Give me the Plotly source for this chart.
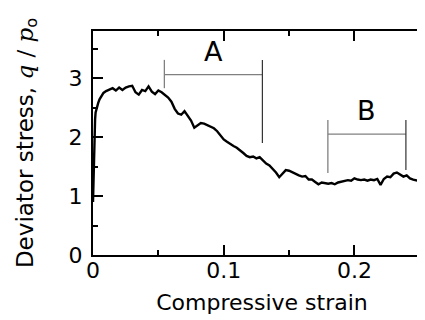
import plotly.graph_objects as go

strain = [0, 0.0004, 0.0008, 0.0012, 0.0016, 0.002, 0.003, 0.004, 0.005, 0.0065, 0.008, 0.01,
          0.0125, 0.015, 0.0175, 0.02, 0.0225, 0.025, 0.0275, 0.03, 0.0325, 0.035, 0.0375, 0.04,
          0.0425, 0.045, 0.0475, 0.05, 0.0525, 0.055, 0.0575, 0.06, 0.0625, 0.065, 0.0675, 0.07,
          0.0725, 0.075, 0.0775, 0.08, 0.0825, 0.085, 0.0875, 0.09, 0.0925, 0.095, 0.0975, 0.1,
          0.1025, 0.105, 0.1075, 0.11, 0.1125, 0.115, 0.1175, 0.12, 0.1225, 0.125, 0.1275, 0.13,
          0.1325, 0.135, 0.1375, 0.14, 0.1425, 0.145, 0.1475, 0.15, 0.1525, 0.155, 0.1575, 0.16,
          0.1625, 0.165, 0.1675, 0.17, 0.1725, 0.175, 0.1775, 0.18, 0.1825, 0.185, 0.1875, 0.19,
          0.1925, 0.195, 0.1975, 0.2, 0.2025, 0.205, 0.2075, 0.21, 0.2125, 0.215, 0.2175, 0.22,
          0.2225, 0.225, 0.2275, 0.23, 0.2325, 0.235, 0.2375, 0.24, 0.2425, 0.245, 0.2475, 0.25]
stress = [0.9, 1.4, 1.8, 2.1, 2.3, 2.42, 2.52, 2.58, 2.64, 2.7, 2.75, 2.78,
          2.80, 2.83, 2.79, 2.84, 2.80, 2.84, 2.86, 2.87, 2.76, 2.72, 2.80, 2.78,
          2.86, 2.77, 2.73, 2.79, 2.76, 2.72, 2.67, 2.60, 2.48, 2.40, 2.38, 2.44,
          2.36, 2.28, 2.16, 2.20, 2.24, 2.23, 2.20, 2.17, 2.15, 2.10, 2.02, 1.96,
          1.92, 1.88, 1.85, 1.82, 1.78, 1.73, 1.68, 1.66, 1.67, 1.64, 1.66, 1.60,
          1.55, 1.52, 1.46, 1.40, 1.32, 1.38, 1.44, 1.43, 1.40, 1.38, 1.35, 1.33,
          1.34, 1.28, 1.28, 1.24, 1.20, 1.23, 1.22, 1.21, 1.22, 1.20, 1.23, 1.24,
          1.25, 1.27, 1.26, 1.30, 1.28, 1.27, 1.28, 1.26, 1.28, 1.27, 1.29, 1.19,
          1.29, 1.33, 1.32, 1.38, 1.40, 1.36, 1.33, 1.35, 1.30, 1.28, 1.27, 1.25]

x_ticks = [0, 0.1, 0.2]
x_ticklabels = ["0", "0.1", "0.2"]
y_ticks = [0, 1, 2, 3]
y_ticklabels = ["0", "1", "2", "3"]

# Bracket regions: label, start, end, bar level, left-bar low, right-bar low, bar tops
regions = ["A", "B"]
reg_start = [0.0546, 0.1797]
reg_end = [0.1296, 0.2394]
reg_bar = [3.06, 2.05]
reg_left_lo = [2.83, 1.39]
reg_right_lo = [1.90, 1.44]
reg_top = [3.31, 2.29]
reg_label_y = [3.45, 2.45]

FONT = "DejaVu Sans"

fig = go.Figure()
fig.add_trace(go.Scatter(x=strain, y=stress, mode="lines",
                         line=dict(color="black", width=2.4), showlegend=False))

shapes = []
annotations = []
for i, name in enumerate(regions):
    gray = "#808080"
    shapes.append(dict(type="line", xref="x", yref="y", x0=reg_start[i], x1=reg_end[i],
                       y0=reg_bar[i], y1=reg_bar[i], line=dict(color=gray, width=1.3)))
    shapes.append(dict(type="line", xref="x", yref="y", x0=reg_start[i], x1=reg_start[i],
                       y0=reg_left_lo[i], y1=reg_top[i], line=dict(color=gray, width=1.3)))
    shapes.append(dict(type="line", xref="x", yref="y", x0=reg_end[i], x1=reg_end[i],
                       y0=reg_right_lo[i], y1=reg_top[i], line=dict(color="#333333", width=1.2)))
    annotations.append(dict(x=(reg_start[i] + reg_end[i]) / 2, y=reg_label_y[i], xref="x", yref="y",
                            text=name, showarrow=False,
                            font=dict(family=FONT, size=27, color="black")))

axis_common = dict(
    showline=True, linecolor="black", linewidth=2, mirror="ticks",
    ticks="inside", ticklen=10, tickwidth=1.5, tickcolor="black",
    showgrid=False, zeroline=False,
    tickfont=dict(family=FONT, size=22, color="black"),
)

fig.update_xaxes(range=[0, 0.2586], tickvals=x_ticks, ticktext=x_ticklabels,
                 minor=dict(dtick=0.05, tick0=0, ticks="inside", ticklen=5, tickwidth=1.5,
                            tickcolor="black"),
                 title=dict(text="Compressive strain", font=dict(family=FONT, size=22, color="black"),
                            standoff=12),
                 ticklabelstandoff=-5,
                 **axis_common)
fig.update_yaxes(range=[0, 3.8], tickvals=y_ticks, ticktext=y_ticklabels,
                 minor=dict(dtick=0.5, tick0=0, ticks="inside", ticklen=5, tickwidth=1.5,
                            tickcolor="black"),
                 title=dict(text="Deviator stress, <span style=\"font-family:'DejaVu Serif'\"><i>q</i> / <i>p</i></span><sub>o</sub>",
                            font=dict(family=FONT, size=23, color="black"), standoff=29),
                 ticklabelstandoff=4,
                 **axis_common)

fig.update_layout(width=425, height=320, margin=dict(l=85, r=2, t=23, b=73, autoexpand=False),
                  plot_bgcolor="white", paper_bgcolor="white",
                  shapes=shapes, annotations=annotations, showlegend=False)

fig.write_html("out.html")
